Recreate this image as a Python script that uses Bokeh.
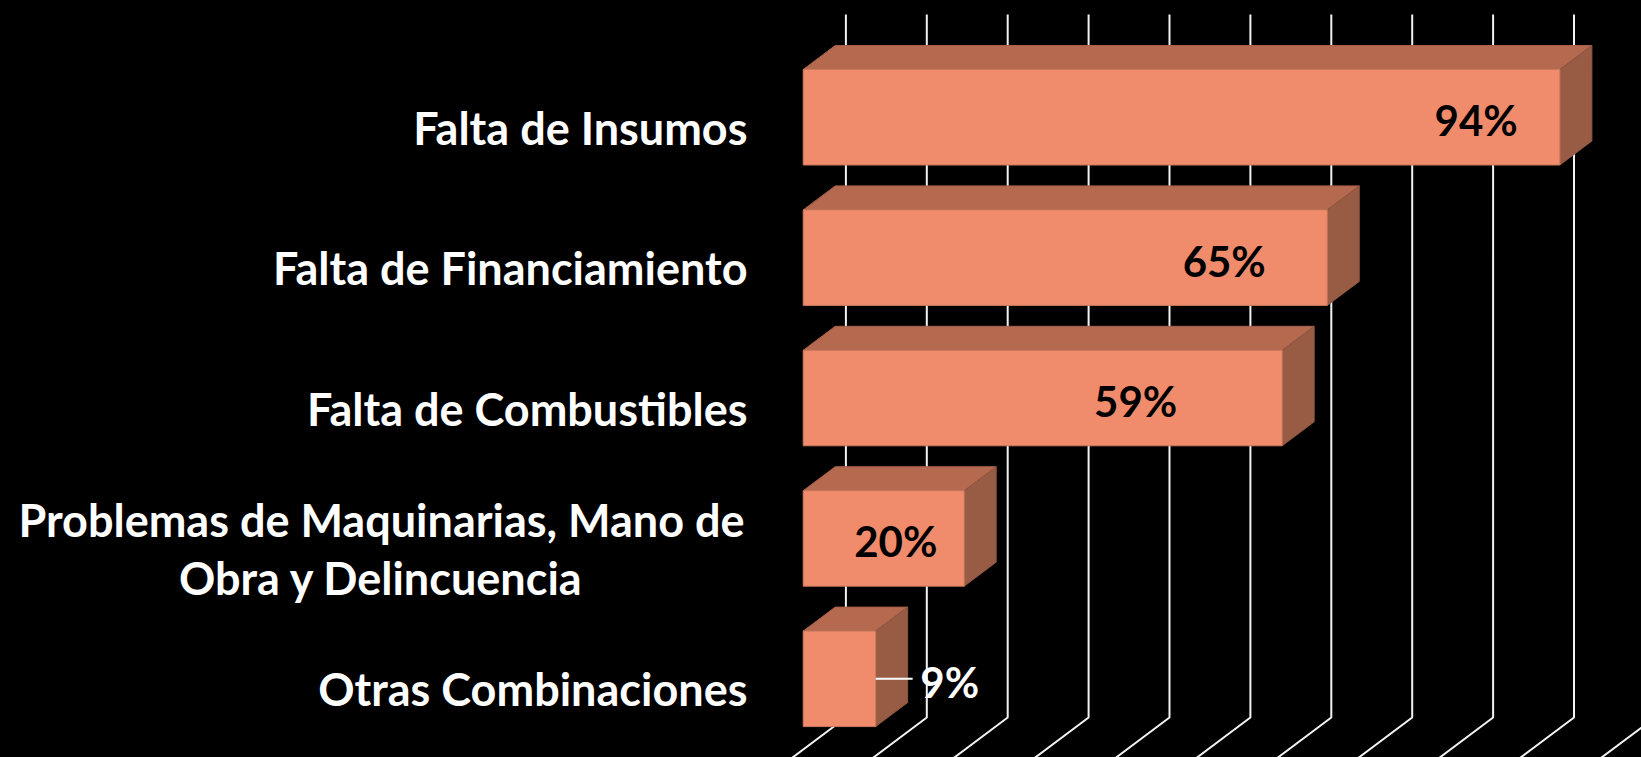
from bokeh.plotting import figure
from bokeh.models import Range1d
from bokeh.embed import file_html
from bokeh.resources import INLINE
from bokeh.core.properties import value

# --- data ---
categories = ["Falta de Insumos", "Falta de Financiamiento", "Falta de Combustibles",
              "Problemas de Maquinarias, Mano de\nObra y Delincuencia", "Otras Combinaciones"]
values = [94, 65.1, 59.5, 20, 9]
value_labels = ["94%", "65%", "59%", "20%", "9%"]
grid_ticks = [0, 10, 20, 30, 40, 50, 60, 70, 80, 90, 100, 110]

# --- layout ---
W, H = 1641, 757
PX_PER_PCT = 8.05        # pixels per percentage point
X0 = 802.7               # pixel of 0 %
ROW0, ROW_STEP = 116.75, 140.4
BAR_H = 95.5 / ROW_STEP
DX = 32 / PX_PER_PCT     # 3-D depth
DY = 24 / ROW_STEP
WALL = 42.7 / PX_PER_PCT
GRID_SCALE = 80.9 / 80.5
GRID_TOP = (14 - ROW0) / ROW_STEP
GRID_BOTTOM = (717 - ROW0) / ROW_STEP
LABEL_RIGHT = (747 - X0) / PX_PER_PCT
LABEL_CENTER = (381 - X0) / PX_PER_PCT
LABEL_SHIFT = 10.5 / ROW_STEP
LINE_GAP = 57.5 / ROW_STEP
VALUE_SHIFT = [-10.4, -12.8, -18.2, -8.5, 9.2]
VALUE_DY = [3 / ROW_STEP] * 5
FONT = value("Lato")
CAT_SIZE = "45px"
VAL_SIZE = "42px"

p = figure(width=W, height=H, toolbar_location=None, output_backend="svg",
           x_range=Range1d(-X0 / PX_PER_PCT, (W - X0) / PX_PER_PCT),
           y_range=Range1d((H - ROW0) / ROW_STEP, -ROW0 / ROW_STEP),
           min_border=0, background_fill_color="#000000", border_fill_color="#000000",
           outline_line_color=None)
p.axis.visible = False
p.grid.visible = False

# wall + floor grid lines
gx, gy = [], []
for t in grid_ticks:
    xb = WALL + t * GRID_SCALE
    drop = 3.0
    gx.append([xb, xb, xb - DX * drop])
    gy.append([GRID_TOP, GRID_BOTTOM, GRID_BOTTOM + DY * drop])
p.multi_line(gx, gy, line_color="#F2F2F2", line_width=2)

# 3-D bars
for i, v in enumerate(values):
    top, bot = i - BAR_H / 2, i + BAR_H / 2
    p.patch([0, DX, v + DX, v], [top, top - DY, top - DY, top],
            fill_color="#B56A4F", line_color="#A5604A", line_width=1)
    p.patch([v, v + DX, v + DX, v], [top, top - DY, bot - DY, bot],
            fill_color="#985C45", line_color="#8E5640", line_width=1)
    p.patch([0, v, v, 0], [top, top, bot, bot],
            fill_color="#F08C6C", line_color="#C97A5E", line_width=1)

# category labels
for i, c in enumerate(categories):
    lines = c.split("\n")
    if len(lines) == 1:
        p.text([LABEL_RIGHT], [i + LABEL_SHIFT], text=[c], text_font=FONT, text_font_style="bold",
               text_font_size=CAT_SIZE, text_color="#FFFFFF", text_align="right", text_baseline="middle")
    else:
        for k, ln in enumerate(lines):
            p.text([LABEL_CENTER], [i + LABEL_SHIFT + (k - 0.5) * LINE_GAP], text=[ln], text_font=FONT,
                   text_font_style="bold", text_font_size=CAT_SIZE, text_color="#FFFFFF",
                   text_align="center", text_baseline="middle")

# value labels
for i, (v, lab, s, d) in enumerate(zip(values, value_labels, VALUE_SHIFT, VALUE_DY)):
    p.text([v + s], [i + d], text=[lab], text_font=FONT, text_font_style="bold",
           text_font_size=VAL_SIZE, text_color="#FFFFFF" if v < 10 else "#000000",
           text_align="center", text_baseline="middle")

# leader line of the small bar
p.line([values[4], values[4] + 37 / PX_PER_PCT], [4, 4], line_color="#FFFFFF", line_width=2)

html = file_html(p, INLINE).replace("<head>", "<head><style>html,body{margin:0;padding:0;background:#000;overflow:hidden}</style>", 1)
open("out.html", "w").write(html)
